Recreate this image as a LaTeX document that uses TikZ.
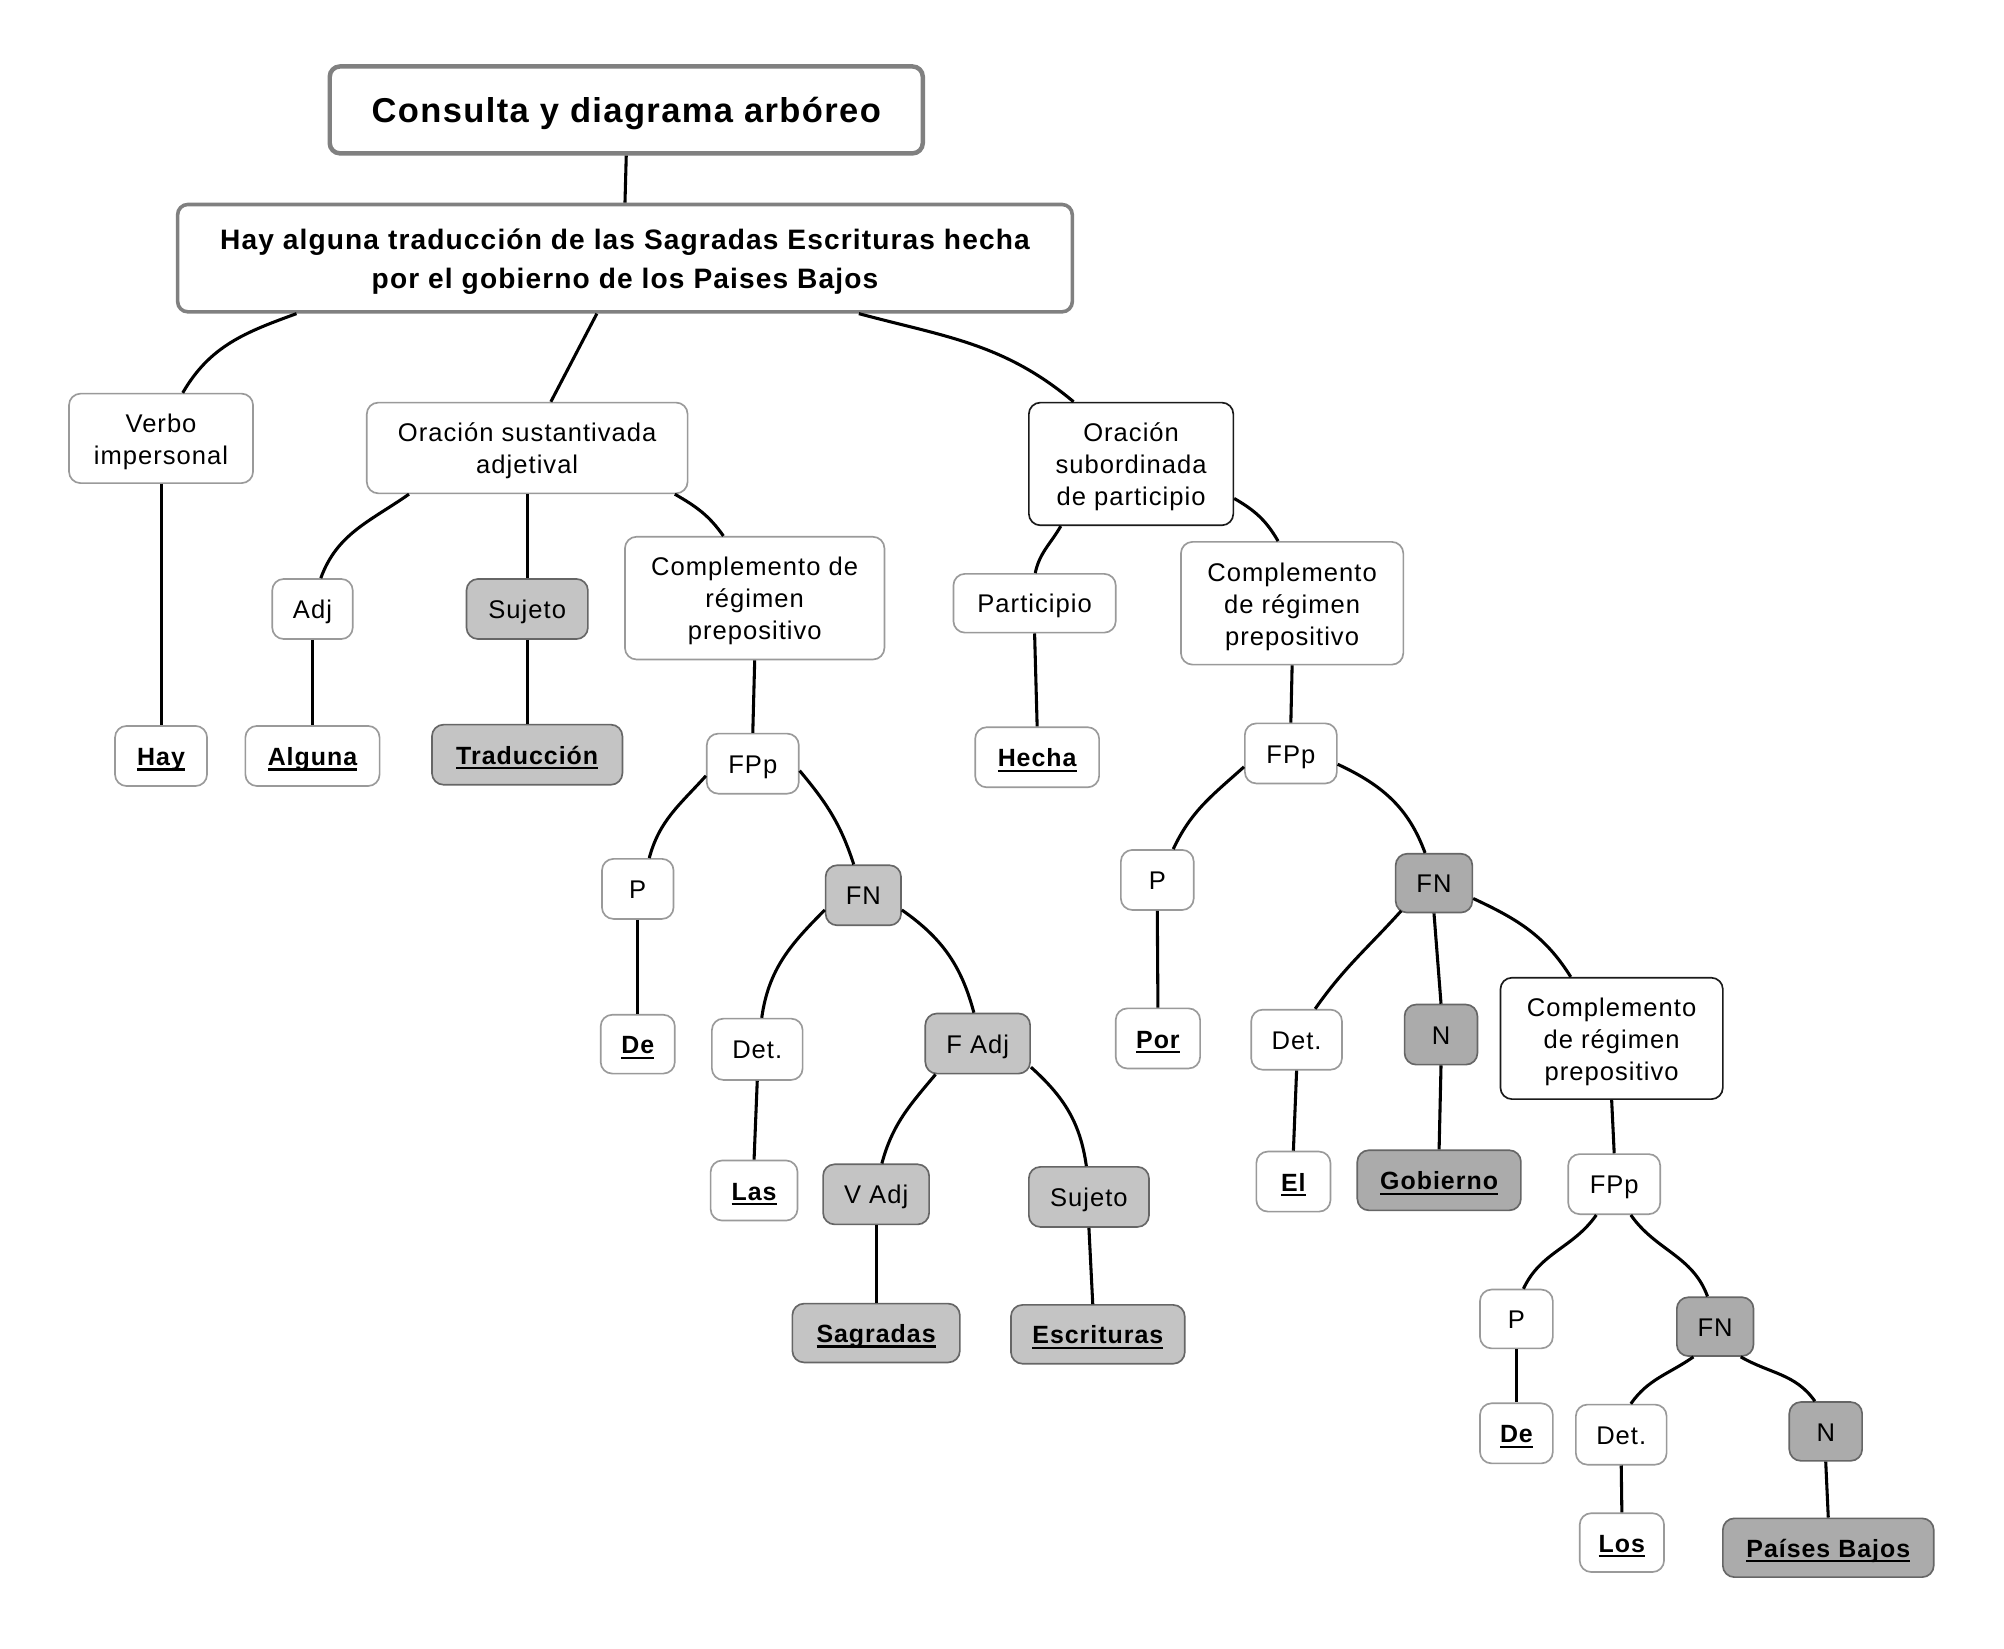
\documentclass[tikz,border=0pt]{standalone}
\usepackage{fontspec}
\setmainfont{Liberation Sans}[LetterSpace=4]
\usetikzlibrary{calc}
\definecolor{bdl}{HTML}{9A9A9A}
\definecolor{bdd}{HTML}{666666}
\definecolor{bdk}{HTML}{1A1A1A}
\definecolor{fl}{HTML}{C4C4C4}
\definecolor{fd}{HTML}{ABABAB}
\definecolor{ttl}{HTML}{808080}
\newcommand\ulw[1]{\setbox0\hbox{#1}\rlap{\rule[-4pt]{\wd0}{1.8pt}}\box0}
\newcommand\sh{\rule[-5pt]{0pt}{25pt}}
\newcommand\sm{\rule{0pt}{19.5pt}}
\newcommand\bx[7]{\node[#6,minimum width={(#4)-(#2)},minimum height={(#5)-(#3)}] (#1) at ({((#2)+(#4))/2},{((#3)+(#5))/2}) {#7};}
\tikzset{
  base/.style={rectangle, rounded corners=9pt, inner sep=0pt, align=center,
    font=\fontsize{20}{25}\selectfont, line width=1.3pt},
  wb/.style={base, draw=bdl, fill=white},
  wk/.style={base, draw=bdk, fill=white},
  lb/.style={base, draw=bdd, fill=fl},
  db/.style={base, draw=bdd, fill=fd},
  bold/.style={font=\fontsize{19.5}{25}\selectfont\bfseries},
  ttlbox/.style={base, draw=ttl, fill=white, line width=3.5pt, rounded corners=8pt,
    font=\fontsize{27}{30}\selectfont\bfseries},
  mainbox/.style={base, draw=ttl, fill=white, line width=2.8pt, rounded corners=8pt,
    font=\fontsize{22}{30}\selectfont\bfseries},
  edge/.style={line width=2.4pt, black},
}
\begin{document}
\begin{tikzpicture}[x=1pt,y=-1pt]
\useasboundingbox (0,0) rectangle (1568,1289.5);
\fill[white] (0,0) rectangle (1568,1289.5);
% nodes
\bx{title}{258}{52}{722}{120}{ttlbox}{\rule[-6pt]{0pt}{32pt}Consulta y diagrama arbóreo}
\bx{main}{139}{160}{839}{244}{mainbox}{\rule{0pt}{21.5pt}Hay alguna traducción de las Sagradas Escrituras hecha\\por el gobierno de los Paises Bajos}
\bx{verbo}{54}{308}{198}{378}{wb}{\sm Verbo\\impersonal}
\bx{osa}{287}{315}{538}{386}{wb}{\sm Oración sustantivada\\adjetival}
\bx{osp}{805}{315}{965}{411}{wk}{\sm Oración\\subordinada\\de participio}
\bx{adj}{213}{453}{276}{500}{wb}{\sh Adj}
\bx{suj1}{365}{453}{460}{500}{lb}{\sh Sujeto}
\bx{cr1}{489}{420}{692}{516}{wb}{\sm Complemento de\\régimen\\prepositivo}
\bx{part}{746}{449}{873}{495}{wb}{\sh Participio}
\bx{cr2}{924}{424}{1098}{520}{wb}{\sm Complemento\\de régimen\\prepositivo}
\bx{hay}{90}{568}{162}{615}{wb,bold}{\sh\ulw{Hay}}
\bx{alg}{192}{568}{297}{615}{wb,bold}{\sh\ulw{Alguna}}
\bx{trad}{338}{567}{487}{614}{lb,bold}{\sh\ulw{Traducción}}
\bx{hecha}{763}{569}{860}{616}{wb,bold}{\sh\ulw{Hecha}}
\bx{fpp1}{553}{574}{625}{621}{wb}{\sh FPp}
\bx{fpp2}{974}{566}{1046}{613}{wb}{\sh FPp}
\bx{p1}{471}{672}{527}{719}{wb}{\sh P}
\bx{fn1}{646}{677}{705}{724}{lb}{\sh FN}
\bx{p2}{877}{665}{934}{712}{wb}{\sh P}
\bx{fn2}{1092}{668}{1152}{714}{db}{\sh FN}
\bx{de1}{470}{794}{528}{840}{wb,bold}{\sh\ulw{De}}
\bx{det1}{557}{797}{628}{845}{wb}{\sh Det.}
\bx{fadj}{724}{793}{806}{840}{lb}{\sh F Adj}
\bx{por}{873}{789}{939}{836}{wb,bold}{\sh\ulw{Por}}
\bx{det2}{979}{790}{1050}{837}{wb}{\sh Det.}
\bx{n1}{1099}{786}{1156}{833}{db}{\sh N}
\bx{cr3}{1174}{765}{1348}{860}{wk}{\sm Complemento\\de régimen\\prepositivo}
\bx{las}{556}{908}{624}{955}{wb,bold}{\sh\ulw{Las}}
\bx{vadj}{644}{911}{727}{958}{lb}{\sh V Adj}
\bx{suj2}{805}{913}{899}{960}{lb}{\sh Sujeto}
\bx{el}{983}{901}{1041}{948}{wb,bold}{\sh\ulw{El}}
\bx{gob}{1062}{900}{1190}{947}{db,bold}{\sh\ulw{Gobierno}}
\bx{fpp3}{1227}{903}{1299}{950}{wb}{\sh FPp}
\bx{sag}{620}{1020}{751}{1066}{lb,bold}{\sh\ulw{Sagradas}}
\bx{esc}{791}{1021}{927}{1067}{lb,bold}{\sh\ulw{Escrituras}}
\bx{p3}{1158}{1009}{1215}{1055}{wb}{\sh P}
\bx{fn3}{1312}{1015}{1372}{1061}{db}{\sh FN}
\bx{de2}{1158}{1098}{1215}{1145}{wb,bold}{\sh\ulw{De}}
\bx{det3}{1233}{1099}{1304}{1146}{wb}{\sh Det.}
\bx{n2}{1400}{1097}{1457}{1143}{db}{\sh N}
\bx{los}{1236}{1184}{1302}{1230}{wb,bold}{\sh\ulw{Los}}
\bx{pb}{1348}{1188}{1513}{1234}{db,bold}{\sh\ulw{Países Bajos}}
% straight connectors
\draw[edge] (title.south) -- (main.north);
\draw[edge] ($(main.south)+(-22,0)$) -- ($(osa.north)+(18.5,0)$);
\draw[edge] (verbo.south) -- (hay.north);
\draw[edge] (adj.south) -- (alg.north);
\draw[edge] (osa.south) -- (suj1.north);
\draw[edge] (suj1.south) -- (trad.north);
\draw[edge] (cr1.south) -- (fpp1.north);
\draw[edge] (part.south) -- (hecha.north);
\draw[edge] (cr2.south) -- (fpp2.north);
\draw[edge] (p1.south) -- (de1.north);
\draw[edge] (det1.south) -- (las.north);
\draw[edge] (vadj.south) -- (sag.north);
\draw[edge] (suj2.south) -- ($(esc.north)+(-4,0)$);
\draw[edge] (p2.south) -- (por.north);
\draw[edge] (fn2.south) -- (n1.north);
\draw[edge] (det2.south) -- (el.north);
\draw[edge] (n1.south) -- (gob.north);
\draw[edge] (cr3.south) -- (fpp3.north);
\draw[edge] (p3.south) -- (de2.north);
\draw[edge] (det3.south) -- (los.north);
\draw[edge] (n2.south) -- (pb.north);
% curved connectors
\draw[edge] ($(main.south)+(-257,0)$) to[out=200,in=60] ($(verbo.north)+(17,0)$);
\draw[edge] ($(main.south)+(183,0)$) to[out=-15,in=140] ($(osp.north)+(-45,0)$);
\draw[edge] ($(osa.south)+(-92.5,0)$) to[out=215,in=70] ($(adj.north)+(6.5,0)$);
\draw[edge] ($(osa.south)+(115.5,0)$) to[out=-30,in=125] ($(cr1.north)+(-24.5,0)$);
\draw[edge] ($(fpp1.west)+(0,9.5)$) to[out=228,in=75] ($(p1.north)+(9,0)$);
\draw[edge] ($(fpp1.east)+(0,5.5)$) to[out=-50,in=108] ($(fn1.north)+(-7.5,0)$);
\draw[edge] ($(fn1.west)+(0,11.5)$) to[out=225,in=82] ($(det1.north)+(3.5,0)$);
\draw[edge] ($(fn1.east)+(0,11.5)$) to[out=-35,in=105] ($(fadj.north)+(-3,0)$);
\draw[edge] ($(fadj.south)+(-33,0)$) to[out=230,in=75] ($(vadj.north)+(4.5,0)$);
\draw[edge] ($(fadj.east)+(0,18.5)$) to[out=-42,in=98] ($(suj2.north)+(-2,0)$);
\draw[edge] ($(osp.south)+(-55,0)$) to[out=240,in=78] ($(part.north)+(0.5,0)$);
\draw[edge] ($(osp.east)+(0,27)$) to[out=-30,in=120] ($(cr2.north)+(-11,0)$);
\draw[edge] ($(fpp2.west)+(0,10.5)$) to[out=222,in=65] ($(p2.north)+(12.5,0)$);
\draw[edge] ($(fpp2.east)+(0,8.5)$) to[out=-25,in=110] ($(fn2.north)+(-7,0)$);
\draw[edge] ($(fn2.south west)+(5,-2)$) to[out=228,in=55] ($(det2.north)+(14.5,0)$);
\draw[edge] ($(fn2.east)+(0,12)$) to[out=-25,in=122] ($(cr3.north)+(-32,0)$);
\draw[edge] ($(fpp3.south)+(-14,0)$) to[out=235,in=65] ($(p3.north)+(5.5,0)$);
\draw[edge] ($(fpp3.south)+(13,0)$) to[out=-55,in=110] ($(fn3.north)+(-6,0)$);
\draw[edge] ($(fn3.south)+(-17,0)$) to[out=215,in=55] ($(det3.north)+(7.5,0)$);
\draw[edge] ($(fn3.south)+(20,0)$) to[out=-30,in=125] ($(n2.north)+(-8.5,0)$);
\end{tikzpicture}
\end{document}
